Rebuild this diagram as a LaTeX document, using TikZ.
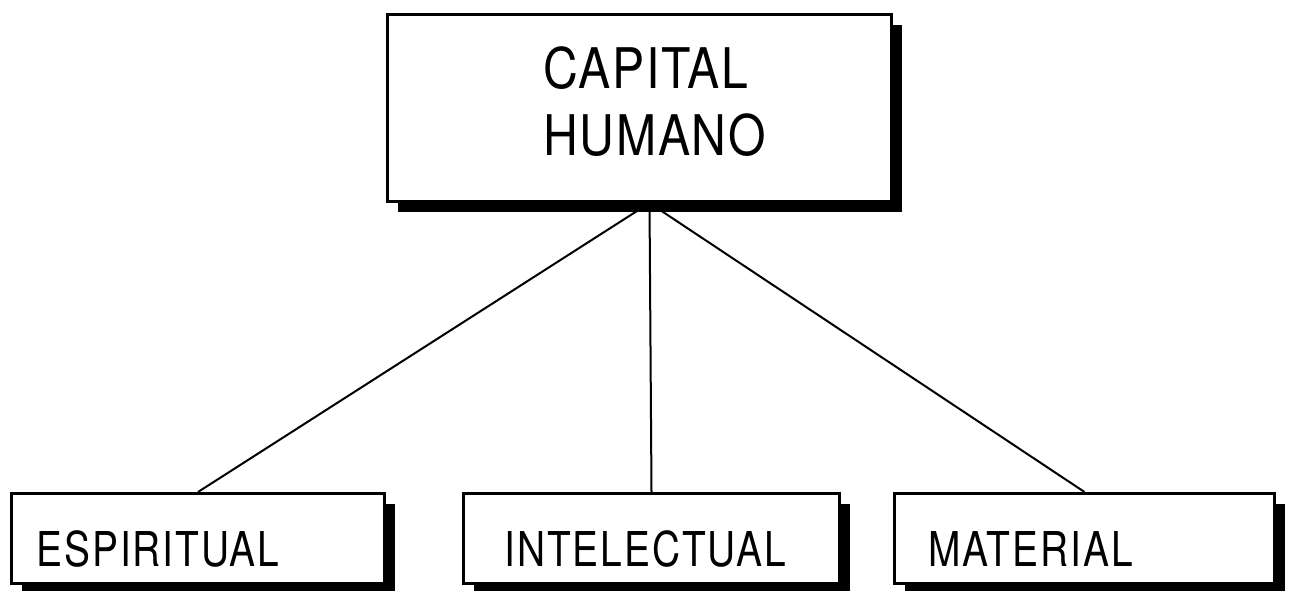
\documentclass[tikz,border=0pt]{standalone}
\usepackage{fontspec}
\newfontfamily\bigf[FakeStretch=0.86,LetterSpace=3]{TeX Gyre Heros}
\newfontfamily\smallf[FakeStretch=0.81,LetterSpace=4]{TeX Gyre Heros}
\usetikzlibrary{shadows,calc,backgrounds}
\tikzset{
  boxbase/.style={draw=black, fill=white, line width=3pt, rectangle,
    drop shadow={shadow xshift=10pt, shadow yshift=-10pt, fill=black, opacity=1}},
  bigbox/.style={boxbase, anchor=north west, minimum width=504pt, minimum height=187pt,
    inner xsep=0pt, inner ysep=0pt, text width=192pt, align=left,
    text height=40pt, text depth=79pt,
    font=\bigf\fontsize{56}{67}\selectfont},
  smallbox/.style={boxbase, anchor=north west, minimum height=90pt, inner ysep=0pt,
    align=left, text height=56pt, text depth=0pt,
    font=\smallf\fontsize{48}{58}\selectfont},
  link/.style={draw=black, line width=2pt}
}
\begin{document}
\begin{tikzpicture}[x=1pt,y=-1pt]
\useasboundingbox (0,0) rectangle (1290,590);
\node[bigbox] (top) at (386,13) {CAPITAL\\HUMANO};
\node[smallbox, minimum width=373pt, inner xsep=25pt, text width=323pt] (esp) at (10,492) {ESPIRITUAL};
\node[smallbox, minimum width=376pt, inner xsep=41pt, text width=294pt] (int) at (462,492) {INTELECTUAL};
\node[smallbox, minimum width=380pt, inner xsep=34pt, text width=312pt] (mat) at (893,492) {MATERIAL};
\coordinate (hub) at ($(top.south)+(10,0)$);
\begin{pgfonlayer}{background}
\draw[link] (hub) -- (esp.north);
\draw[link] (hub) -- (int.north);
\draw[link] (hub) -- (mat.north);
\end{pgfonlayer}
\end{tikzpicture}
\end{document}
